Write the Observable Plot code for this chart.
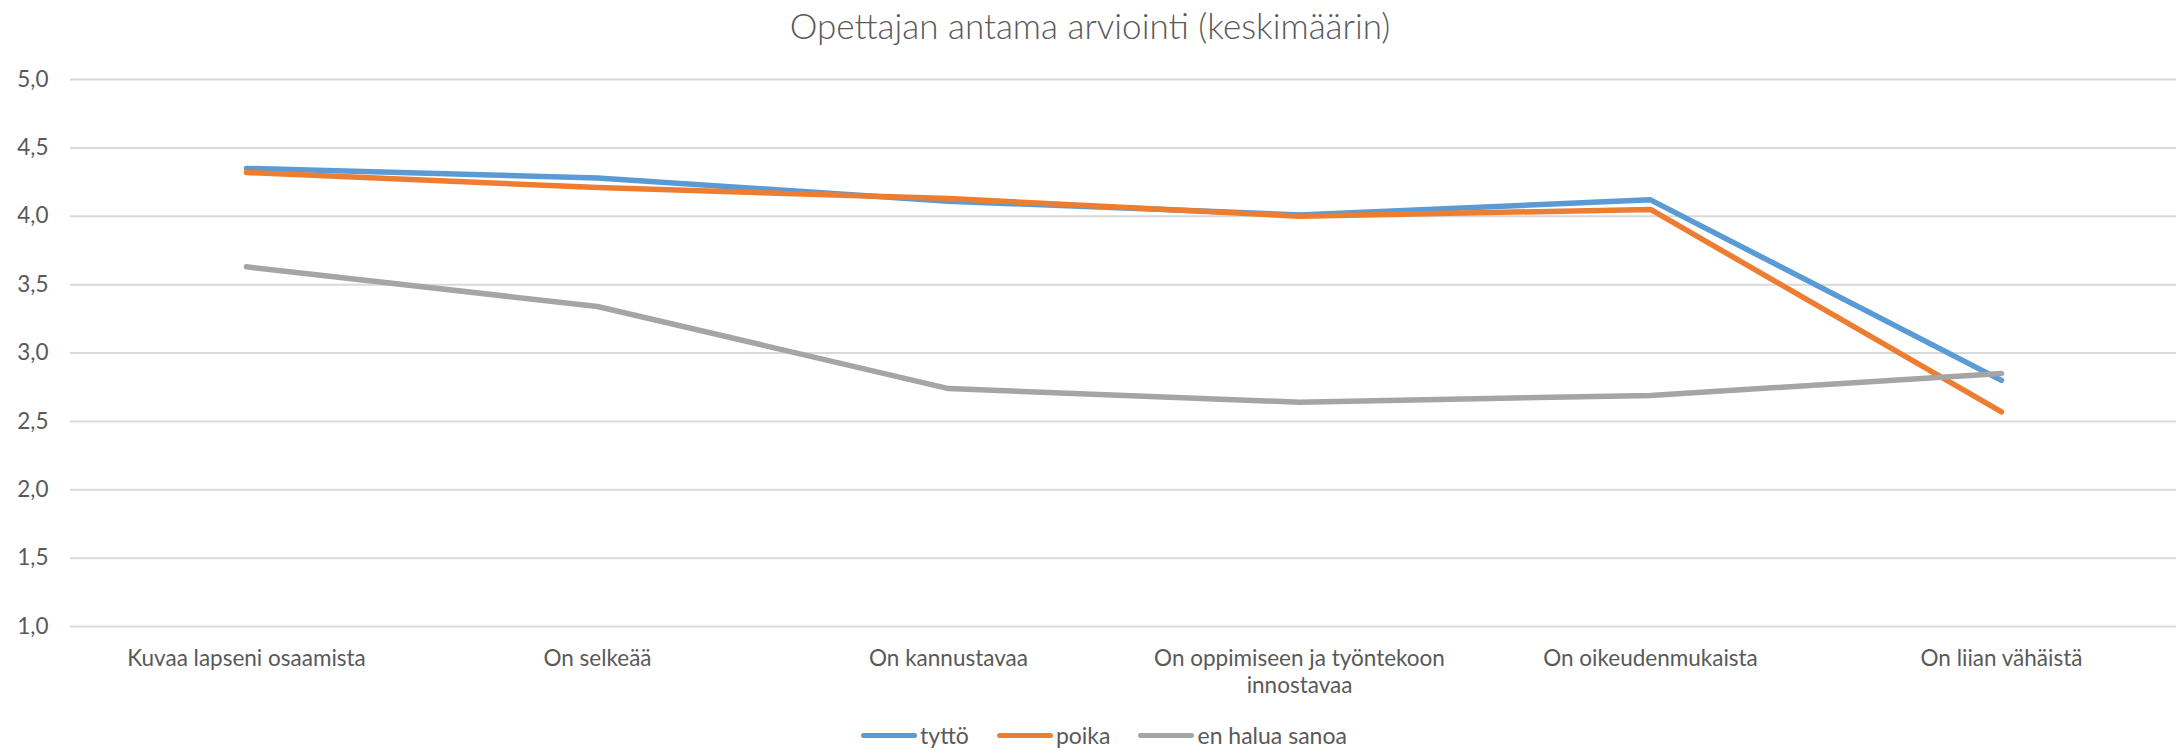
<!DOCTYPE html>
<html>
<head>
<meta charset="utf-8">
<script src="https://cdn.jsdelivr.net/npm/d3@7"></script>
<script src="https://cdn.jsdelivr.net/npm/@observablehq/plot@0.6"></script>
<style>
  html, body { margin: 0; padding: 0; background: #fff; }
  body { width: 2180px; height: 752px; overflow: hidden; font-family: Lato, "Open Sans", sans-serif; color: #595959; }
  #title { height: 50px; text-align: center; font-size: 35px; font-weight: 300; line-height: 50px; color: #595959; }
  #chart svg { display: block; }
  #legend { display: flex; justify-content: center; align-items: center; height: 42px; padding-top: 4px; padding-left: 28px; font-size: 23px; color: #595959; }
  .item { display: flex; align-items: center; margin: 0 14px; }
  .sw { width: 56px; height: 5px; border-radius: 3px; margin-right: 3px; }
</style>
</head>
<body>
<div id="title">Opettajan antama arviointi (keskimäärin)</div>
<div id="chart"></div>
<div id="legend"></div>
<script>
const categories = [
  "Kuvaa lapseni osaamista",
  "On selkeää",
  "On kannustavaa",
  "On oppimiseen ja työntekoon innostavaa",
  "On oikeudenmukaista",
  "On liian vähäistä"
];
const categoryLabels = [
  "Kuvaa lapseni osaamista",
  "On selkeää",
  "On kannustavaa",
  "On oppimiseen ja työntekoon\ninnostavaa",
  "On oikeudenmukaista",
  "On liian vähäistä"
];
const seriesNames = ["tyttö", "poika", "en halua sanoa"];
const tytto = [4.35, 4.28, 4.11, 4.01, 4.12, 2.80];
const poika = [4.32, 4.21, 4.13, 4.00, 4.05, 2.57];
const enHaluaSanoa = [3.63, 3.34, 2.74, 2.64, 2.69, 2.85];
const seriesColors = ["#5B9BD5", "#ED7D31", "#A5A5A5"];
const yTicks = [1.0, 1.5, 2.0, 2.5, 3.0, 3.5, 4.0, 4.5, 5.0];

const allValues = [tytto, poika, enHaluaSanoa];
const rows = [];
seriesNames.forEach((s, si) => {
  categories.forEach((c, ci) => rows.push({series: s, category: c, value: allValues[si][ci]}));
});
const labelOf = new Map(categories.map((c, i) => [c, categoryLabels[i]]));
const fmt = d => d3.format(".1f")(d).replace(".", ",");

const chart = Plot.plot({
  width: 2180,
  height: 660,
  marginTop: 29,
  marginBottom: 84,
  marginLeft: 70,
  marginRight: 4,
  style: {fontFamily: "Lato, 'Open Sans', sans-serif", fontSize: "22.5px", color: "#595959", background: "#fff"},
  x: {type: "point", domain: categories, padding: 0.5, label: null},
  y: {domain: [1, 5], label: null},
  color: {domain: seriesNames, range: seriesColors},
  marks: [
    Plot.ruleY(yTicks, {stroke: "#D9D9D9", strokeWidth: 2}),
    Plot.axisY({ticks: yTicks, tickFormat: fmt, tickSize: 0, tickPadding: 22, label: null, fill: "#595959"}),
    Plot.axisX({tickSize: 0, tickPadding: 20, tickFormat: d => labelOf.get(d), lineHeight: 1.2, label: null, fill: "#595959"}),
    Plot.lineY(rows, {x: "category", y: "value", stroke: "series", z: "series", strokeWidth: 5.5, strokeLinecap: "round", strokeLinejoin: "round"})
  ]
});
document.getElementById("chart").appendChild(chart);

const legend = document.getElementById("legend");
seriesNames.forEach((s, i) => {
  const item = document.createElement("div");
  item.className = "item";
  const sw = document.createElement("div");
  sw.className = "sw";
  sw.style.background = seriesColors[i];
  const t = document.createElement("span");
  t.textContent = s;
  item.appendChild(sw);
  item.appendChild(t);
  legend.appendChild(item);
});
</script>
</body>
</html>
